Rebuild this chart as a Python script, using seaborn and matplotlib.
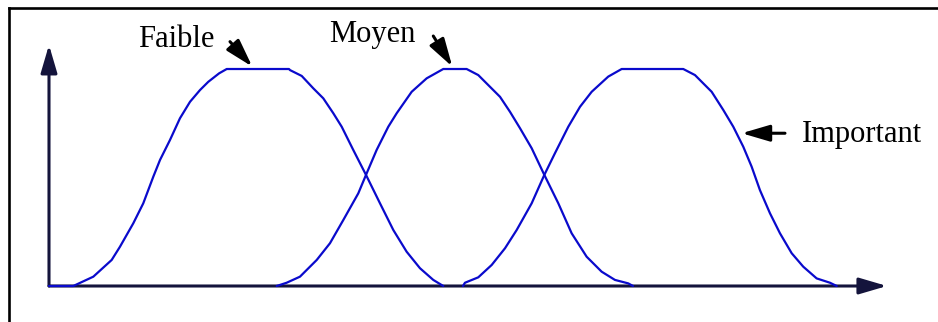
import numpy as np
import pandas as pd
import matplotlib
matplotlib.use('Agg')
import matplotlib.pyplot as plt
import seaborn as sns
from matplotlib.lines import Line2D

# Points (x : 0-100 le long de l'axe, y : degré d'appartenance 0-1)
faible_x = [0.0, 2.90, 5.29, 7.48, 8.47, 10.06, 11.25, 12.45, 13.25, 14.44, 15.63, 16.83, 18.02,
            19.01, 20.30, 21.21,
            28.64, 28.76, 30.16, 31.54, 32.73, 33.93, 34.93, 36.31, 37.83, 39.50, 41.09, 42.68,
            44.27, 45.86, 47.05]
faible_y = [0.0, 0.0, 0.043, 0.12, 0.181, 0.289, 0.381, 0.504, 0.581, 0.673, 0.773, 0.849, 0.903,
            0.941, 0.980, 1.0,
            1.0, 0.995, 0.968, 0.911, 0.865, 0.796, 0.734, 0.627, 0.512, 0.381, 0.258, 0.158,
            0.082, 0.028, 0.0]

moyen_x = [27.17, 28.36, 29.95, 31.95, 33.53, 35.12, 36.91, 37.83, 39.10, 40.49, 41.49, 43.28,
           45.07, 47.05, 49.84, 51.23, 52.42, 53.82, 55.01, 56.21, 57.60, 59.11, 60.78, 62.37,
           64.16, 65.95, 67.54, 69.13, 69.69]
moyen_y = [0.0, 0.015, 0.043, 0.12, 0.197, 0.304, 0.427, 0.512, 0.627, 0.734, 0.796, 0.895,
           0.957, 1.0, 1.0, 0.972, 0.926, 0.872, 0.803, 0.727, 0.635, 0.512, 0.381, 0.243,
           0.135, 0.066, 0.028, 0.012, 0.0]

important_x = [49.40, 49.64, 51.23, 52.83, 54.42, 55.81, 57.60, 59.11, 60.38, 61.97, 63.37,
               64.76, 66.74, 68.34, 75.69, 77.09, 79.08, 80.47, 81.66, 82.85, 83.85, 84.84,
               86.04, 87.23, 88.63, 90.01, 91.61, 93.20, 94.00]
important_y = [0.0, 0.015, 0.040, 0.097, 0.174, 0.258, 0.381, 0.512, 0.612, 0.734, 0.826,
               0.895, 0.965, 1.0, 1.0, 0.972, 0.895, 0.811, 0.734, 0.642, 0.550, 0.442,
               0.335, 0.243, 0.151, 0.089, 0.035, 0.015, 0.0]

labels = ['Faible', 'Moyen', 'Important']

df = pd.concat([
    pd.DataFrame({'x': faible_x, 'y': faible_y, 'ensemble': labels[0]}),
    pd.DataFrame({'x': moyen_x, 'y': moyen_y, 'ensemble': labels[1]}),
    pd.DataFrame({'x': important_x, 'y': important_y, 'ensemble': labels[2]}),
])

sns.set_style('white')
plt.rcParams['font.family'] = ['Liberation Serif', 'DejaVu Serif']

fig = plt.figure(figsize=(9.38, 3.22), dpi=100)
ax = fig.add_axes([0, 0, 1, 1])

bleu = '#0a0acc'
sns.lineplot(data=df, x='x', y='y', hue='ensemble', units='ensemble', estimator=None,
             sort=False, palette=[bleu] * 3, legend=False, linewidth=1.6, ax=ax, zorder=3)

# limites pour que l'origine tombe au bon endroit
ax.set_xlim(-5.847, 106.09)
ax.set_ylim(-0.1659, 1.318)
ax.set_axis_off()

# axes fléchés
axe = '#14143c'
fleche = dict(arrowstyle='-|>,head_length=1.7,head_width=0.5', color='black',
              lw=2.2, mutation_scale=10, shrinkA=0, shrinkB=0)
ax.annotate('', xy=(0, 1.111), xytext=(0, 0), arrowprops=dict(fleche, color=axe), zorder=2)
ax.annotate('', xy=(100, 0), xytext=(0, 0), arrowprops=dict(fleche, color=axe), zorder=2)

# étiquettes avec flèches
ax.text(10.58, 1.103, 'Faible', fontsize=22, ha='left', va='baseline', color='black')
ax.annotate('', xy=(24.26, 1.011), xytext=(21.6, 1.126), arrowprops=fleche)

ax.text(33.41, 1.126, 'Moyen', fontsize=22, ha='left', va='baseline', color='black')
ax.annotate('', xy=(48.13, 1.011), xytext=(45.86, 1.152), arrowprops=fleche)

ax.text(89.82, 0.665, 'Important', fontsize=22, ha='left', va='baseline', color='black')
ax.annotate('', xy=(82.66, 0.704), xytext=(87.83, 0.704), arrowprops=fleche)

# cadre (haut et gauche)
fig.add_artist(Line2D([0.0096, 1.0], [0.975, 0.975], color='black', lw=1.9,
                      transform=fig.transFigure, solid_capstyle='projecting'))
fig.add_artist(Line2D([0.0096, 0.0096], [0.0, 0.975], color='black', lw=1.9,
                      transform=fig.transFigure, solid_capstyle='projecting'))

fig.savefig('out.png', dpi=100)
